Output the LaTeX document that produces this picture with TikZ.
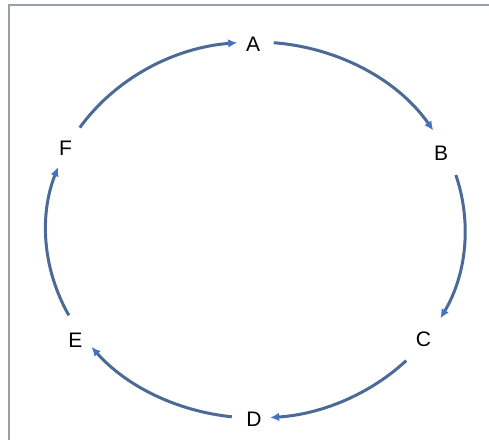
\documentclass[tikz,border=0pt]{standalone}
\usepackage{fontspec}
\setmainfont{Liberation Sans}
\usetikzlibrary{arrows.meta}
\definecolor{linecol}{RGB}{76,106,150}
\definecolor{tipcol}{RGB}{68,114,196}
\definecolor{framecol}{RGB}{150,160,170}
\tikzset{
  lbl/.style={inner sep=0pt, font=\fontsize{21}{22}\selectfont},
  conn/.style={draw=linecol, line width=3pt, -{Latex[length=9pt,width=8.5pt,color=tipcol]}},
  framel/.style={draw=framecol, line width=1.4pt}
}
\begin{document}
\begin{tikzpicture}[x=1pt,y=1pt]
\useasboundingbox (0,0) rectangle (489,440);
\fill[white] (0,0) rectangle (489,440);
\coordinate (TL) at (9,435);
\coordinate (TR) at (489,435);
\coordinate (BL) at (9,0);
\draw[framel] (BL) -- (TL) -- (TR);
\coordinate (O) at (255.5,210);
\node[lbl] (A) at (253,396) {A};
\node[lbl] (B) at (441,287) {B};
\node[lbl] (C) at (423.5,100.5) {C};
\node[lbl] (D) at (254,21) {D};
\node[lbl] (E) at (75.5,100) {E};
\node[lbl] (F) at (65.5,291.5) {F};
\def\rx{209.5}
\def\ry{188}
\draw[conn] (O) ++(85:\rx pt and \ry pt) arc[start angle=85, end angle=32, x radius=\rx, y radius=\ry];
\draw[conn] (O) ++(17:\rx pt and \ry pt) arc[start angle=17, end angle=-28, x radius=\rx, y radius=\ry];
\draw[conn] (O) ++(-44:\rx pt and \ry pt) arc[start angle=-44, end angle=-86, x radius=\rx, y radius=\ry];
\draw[conn] (O) ++(-96.5:\rx pt and \ry pt) arc[start angle=-96.5, end angle=-141.5, x radius=\rx, y radius=\ry];
\draw[conn] (O) ++(-153:\rx pt and \ry pt) arc[start angle=-153, end angle=-199.5, x radius=\rx, y radius=\ry];
\draw[conn] (O) ++(147:\rx pt and \ry pt) arc[start angle=147, end angle=95, x radius=\rx, y radius=\ry];
\end{tikzpicture}
\end{document}
